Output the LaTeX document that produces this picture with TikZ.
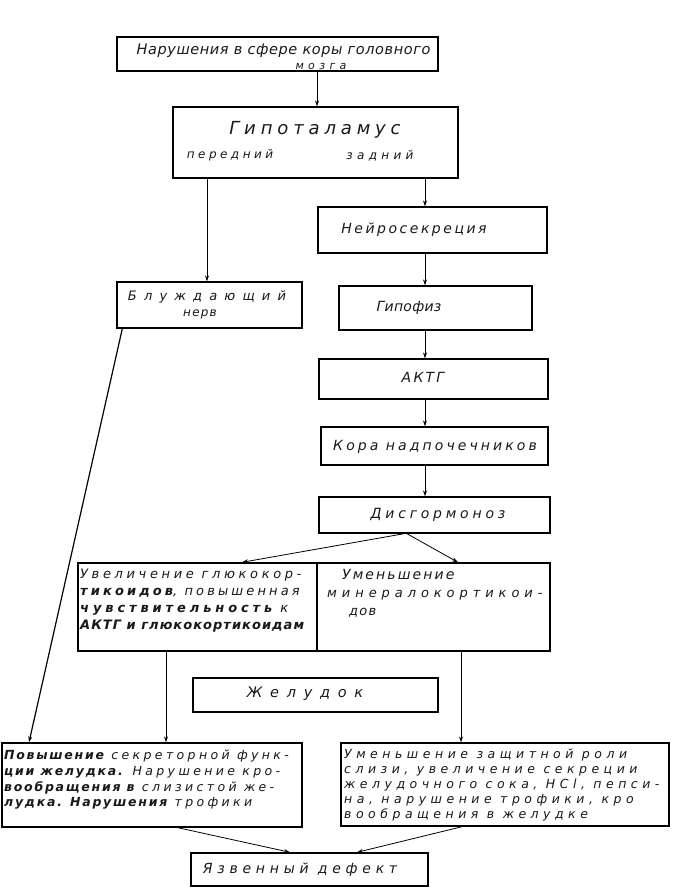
\documentclass[tikz,border=0pt]{standalone}
\usepackage{fontspec}
\setmainfont{DejaVu Sans}
\usetikzlibrary{arrows.meta}
\newcommand\hw[2]{\fontsize{#1}{#1}\selectfont\itshape\addfontfeature{LetterSpace=#2}}
\newcommand\hwb[3]{\fontsize{#1}{#3}\selectfont\itshape\addfontfeature{LetterSpace=#2}}
\newcommand\ls[1]{\addfontfeature{LetterSpace=#1}}
\begin{document}
\begin{tikzpicture}[x=1pt,y=-1pt,
  box/.style={draw, line width=1.4pt, inner sep=0pt, rectangle},
  arr/.style={line width=0.8pt, -{Stealth[length=6pt,width=4pt]}},
  lbl/.style={inner sep=0pt, text=black!90},
  para/.style={inner sep=0pt, anchor=north west, align=left, text=black!90},
]
\useasboundingbox (0,0) rectangle (675,894);
\fill[white] (0,0) rectangle (675,894);

% boxes
\node[box, minimum width=321pt, minimum height=34pt] (top)    at (277.5,54)   {};
\node[box, minimum width=285pt, minimum height=71pt] (hyp)    at (315.5,142.5){};
\node[box, minimum width=229pt, minimum height=46pt] (neuro)  at (432.5,230)  {};
\node[box, minimum width=185pt, minimum height=46pt] (vagus)  at (209.5,305)  {};
\node[box, minimum width=193pt, minimum height=44pt] (hypo)   at (435.5,308)  {};
\node[box, minimum width=229pt, minimum height=40pt] (actg)   at (433.5,379)  {};
\node[box, minimum width=227pt, minimum height=38pt] (cortex) at (434.5,446)  {};
\node[box, minimum width=231pt, minimum height=36pt] (dysh)   at (434.5,515)  {};
\node[box, minimum width=239pt, minimum height=88pt] (incr)   at (197.5,607)  {};
\node[box, minimum width=233pt, minimum height=88pt] (decr)   at (433.5,607)  {};
\node[box, minimum width=245pt, minimum height=34pt] (stom)   at (315.5,695)  {};
\node[box, minimum width=300pt, minimum height=84pt] (lb)     at (152,785)    {};
\node[box, minimum width=328pt, minimum height=83pt] (rb)     at (505,784.5)  {};
\node[box, minimum width=237pt, minimum height=33pt] (ulcer)  at (309.5,869.5){};

% texts
\node[lbl, font=\hw{14.5}{4}] (topT) at (283.5,51) {Нарушения в сфере коры головного};
\node[lbl, font=\hw{11}{40}] (topT2) at (321,66) {мозга};
\node[lbl, font=\hw{18}{27}] (hypT) at (315,130) {Гипоталамус};
\node[lbl, font=\hw{12}{29}] (hypL) at (230,155) {передний};
\node[lbl, font=\hw{12}{36}] (hypR) at (380,156) {задний};
\node[lbl, font=\hw{14}{18}] (neuroT) at (414,230) {Нейросекреция};
\node[lbl, font=\hw{13}{55}] (vagT1) at (207,297) {Блуждающий};
\node[lbl, font=\hw{12}{10}] (vagT2) at (200,314) {нерв};
\node[lbl, font=\hw{14}{2}] (hypoT) at (409,308) {Гипофиз};
\node[lbl, font=\hw{14}{16}] (actgT) at (423,377) {АКТГ};
\node[lbl, font=\hw{14}{22}] (cortexT) at (435,447) {Кора надпочечников};
\node[lbl, font=\hw{14}{27}] (dyshT) at (438,515) {Дисгормоноз};
\node[para, font=\hwb{13}{28}{17}] (incrT) at (80,569)
  {{\ls{28}Увеличение глюкокор-}\\{\ls{24}\textbf{тикоидов}, повышенная}\\{\ls{30}\textbf{чувствительность} к}\\{\ls{8}\textbf{АКТГ и глюкокортикоидам}}};
\node[para, font=\hwb{13}{38}{18}] (decrT) at (327,569)
  {\hspace*{15pt}{\ls{15}\fontsize{14}{18}\selectfont Уменьшение}\\минералокортикои-\\\hspace*{22pt}{\ls{10}дов}};
\node[lbl, font=\hw{14.5}{53}] (stomT) at (305,694) {Желудок};
\node[para, font=\hwb{12.5}{27}{15.7}] (lbT) at (4,750)
  {{\ls{14}\textbf{Повышение}} секреторной функ-\\{\ls{14}\textbf{ции желудка.}} Нарушение кро-\\{\ls{14}\textbf{вообращения в}} слизистой же-\\{\ls{14}\textbf{лудка. Нарушения}} трофики};
\node[para, font=\hwb{12.5}{36}{15}] (rbT) at (344,749)
  {Уменьшение защитной роли\\слизи, увеличение секреции\\желудочного сока, HCl, пепси-\\на, нарушение трофики, кро\\вообращения в желудке};
\node[lbl, font=\hw{14}{34}] (ulcerT) at (300,870) {Язвенный дефект};

% connectors
\draw[arr] (top.south -| 317,0) -- (hyp.north -| 317,0);
\draw[arr] (hyp.south -| 207,0) -- (vagus.north -| 207,0);
\draw[arr] (hyp.south -| 425,0) -- (neuro.north -| 425,0);
\draw[arr] (neuro.south -| 425,0) -- (hypo.north -| 425,0);
\draw[arr] (hypo.south -| 425,0) -- (actg.north -| 425,0);
\draw[arr] (actg.south -| 425,0) -- (cortex.north -| 425,0);
\draw[arr] (cortex.south -| 425,0) -- (dysh.north -| 425,0);
\draw[arr] (dysh.south -| 404,0) -- (incr.north -| 242,0);
\draw[arr] (dysh.south -| 407,0) -- (decr.north -| 458,0);
\draw[arr, line width=1.2pt] ([xshift=6pt]vagus.south west) -- (lb.north -| 29,0);
\draw[arr] (incr.south -| 166,0) -- (lb.north -| 166,0);
\draw[arr] (decr.south -| 461,0) -- (rb.north -| 461,0);
\draw[arr] (lb.south -| 178,0) -- (ulcer.north -| 290,0);
\draw[arr] (rb.south -| 462,0) -- (ulcer.north -| 357,0);
\end{tikzpicture}
\end{document}
